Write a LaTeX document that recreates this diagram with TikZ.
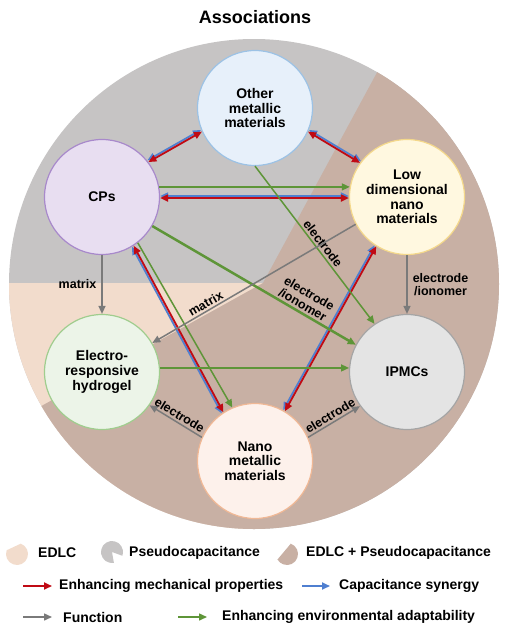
\documentclass[tikz,border=0pt]{standalone}
\usepackage{fontspec}
\setmainfont{Liberation Sans}
\usetikzlibrary{arrows.meta}

\definecolor{pseudogray}{HTML}{C6C4C4}
\definecolor{edlcpeach}{HTML}{F2DCCC}
\definecolor{mixbrown}{HTML}{C8B0A4}
\definecolor{mechred}{HTML}{C00A14}
\definecolor{synblue}{HTML}{4F7FD0}
\definecolor{envgreen}{HTML}{5E9538}
\definecolor{fngray}{HTML}{7A7A7A}
\definecolor{ommfill}{HTML}{E7F0FA}
\definecolor{ommline}{HTML}{9CC2E5}
\definecolor{cpsfill}{HTML}{E8DEF1}
\definecolor{cpsline}{HTML}{A889CB}
\definecolor{ldnfill}{HTML}{FFF8E0}
\definecolor{ldnline}{HTML}{F4D88B}
\definecolor{hydfill}{HTML}{ECF4E8}
\definecolor{hydline}{HTML}{A0CD8E}
\definecolor{ipmcfill}{HTML}{E4E4E4}
\definecolor{ipmcline}{HTML}{A5A5A5}
\definecolor{nmmfill}{HTML}{FDF1EB}
\definecolor{nmmline}{HTML}{F0B895}

\newcommand{\nodefont}{\fontsize{14}{14.6}\selectfont\bfseries}
\newcommand{\edgefont}{\fontsize{12.5}{13}\selectfont\bfseries}
\newcommand{\legfont}{\fontsize{14}{16}\selectfont\bfseries}
\newcommand{\titlefont}{\fontsize{18}{20}\selectfont\bfseries}

\begin{document}
\begin{tikzpicture}[x=1pt,y=-1pt,>={Triangle[length=8pt,width=7pt]},
    mat/.style={circle,draw,line width=1.2pt,minimum size=115pt,inner sep=0pt,align=center,font=\nodefont},
    mech/.style={draw=mechred,line width=1.8pt},
    syn/.style={draw=synblue,line width=1.8pt},
    env/.style={draw=envgreen,line width=1.5pt},
    fn/.style={draw=fngray,line width=1.5pt},
    lbl/.style={font=\edgefont,inner sep=2pt,align=center},
    leg/.style={anchor=west,font=\legfont,inner sep=0pt}]

  \useasboundingbox (0,0) rectangle (507,635);

  % background sectors
  \begin{scope}
    \clip (254,284) circle (245);
    \fill[pseudogray] (0,30) rectangle (507,540);
    \fill[edlcpeach] (0,283) rectangle (263,540);
    \fill[mixbrown] (400,30) -- (263,283) -- (0,429) -- (0,540) -- (507,540) -- (507,30) -- cycle;
  \end{scope}

  \node[font=\titlefont] (title) at (255,17) {Associations};

  \node[mat,fill=ommfill,draw=ommline] (omm) at (255,108) {Other\\metallic\\materials};
  \node[mat,fill=cpsfill,draw=cpsline] (cps) at (102,197) {CPs};
  \node[mat,fill=ldnfill,draw=ldnline] (ldn) at (407,197) {Low\\dimensional\\nano\\materials};
  \node[mat,fill=hydfill,draw=hydline] (hyd) at (102,372) {Electro-\\responsive\\hydrogel};
  \node[mat,fill=ipmcfill,draw=ipmcline] (ipmc) at (407,372) {IPMCs};
  \node[mat,fill=nmmfill,draw=nmmline] (nmm) at (255,461) {Nano\\metallic\\materials};

  % mechanical + capacitance pairs
  \draw[syn,<->,transform canvas={shift={(-1pt,1.7pt)}}] (cps.37) -- (omm.204);
  \draw[mech,<->] (cps.37) -- (omm.204);
  \draw[syn,<->,transform canvas={shift={(1pt,1.7pt)}}] (omm.336) -- (ldn.144);
  \draw[mech,<->] (omm.336) -- (ldn.144);
  \draw[syn,<->,transform canvas={shift={(0pt,2pt)}}] (cps.-1) -- (ldn.181);
  \draw[mech,<->] (cps.-1) -- (ldn.181);
  \draw[syn,<->,transform canvas={shift={(-1.7pt,-1pt)}}] (cps.-57) -- (nmm.123);
  \draw[mech,<->] (cps.-57) -- (nmm.123);
  \draw[syn,<->,transform canvas={shift={(-1.7pt,1pt)}}] (nmm.59) -- (ldn.238);
  \draw[mech,<->] (nmm.59) -- (ldn.238);

  % environmental adaptability
  \draw[env,->] (cps.10) -- (ldn.170);
  \draw[env,->] (omm.-90) -- node[lbl,above,sloped,pos=0.52] {electrode} (ipmc.124);
  \draw[env,->,line width=2.5pt] (cps.-30) -- node[lbl,above,sloped,pos=0.72] {electrode\\/ionomer} (ipmc.152);
  \draw[env,->] (cps.-52) -- (nmm.113);
  \draw[env,->] (hyd.4) -- (ipmc.176);

  % function
  \draw[fn,->] (cps.south) -- node[lbl,left=3pt] {matrix} (hyd.north);
  \draw[fn,->] (ldn.south) -- node[lbl,right=3pt] {electrode\\/ionomer} (ipmc.north);
  \draw[fn,->] (ldn.208) -- node[lbl,above,sloped,pos=0.72] {matrix} (hyd.30);
  \draw[fn,->] (nmm.156) -- node[lbl,above,sloped] {electrode} (hyd.-35);
  \draw[fn,->] (nmm.24) -- node[lbl,above,sloped] {electrode} (ipmc.216);

  % legend
  \fill[edlcpeach] (17,554) ++(290:11) arc (290:560:11) -- cycle;
  \fill[pseudogray] (112,552) -- ++(80:11) arc (80:380:11) -- cycle;
  \fill[mixbrown] (287,554) ++(290:11) arc (290:510:11) -- cycle;
  \node[leg] (ledlc) at (38,553) {EDLC};
  \node[leg] (lpseudo) at (129,553) {Pseudocapacitance};
  \node[leg] (lmix) at (306,553) {EDLC + Pseudocapacitance};
  \node[leg] (lmech) at (59,586) {Enhancing mechanical properties};
  \node[leg] (lsyn) at (339,586) {Capacitance synergy};
  \node[leg] (lfn) at (63,617) {Function};
  \node[leg] (lenv) at (222,617) {Enhancing environmental adaptability};
  \draw[mech,->] ([xshift=-36pt]lmech.west) -- ([xshift=-7pt]lmech.west);
  \draw[syn,->] ([xshift=-37pt]lsyn.west) -- ([xshift=-9pt]lsyn.west);
  \draw[fn,->] ([xshift=-40pt]lfn.west) -- ([xshift=-11pt]lfn.west);
  \draw[env,->] ([xshift=-44pt]lenv.west) -- ([xshift=-15pt]lenv.west);
\end{tikzpicture}
\end{document}
